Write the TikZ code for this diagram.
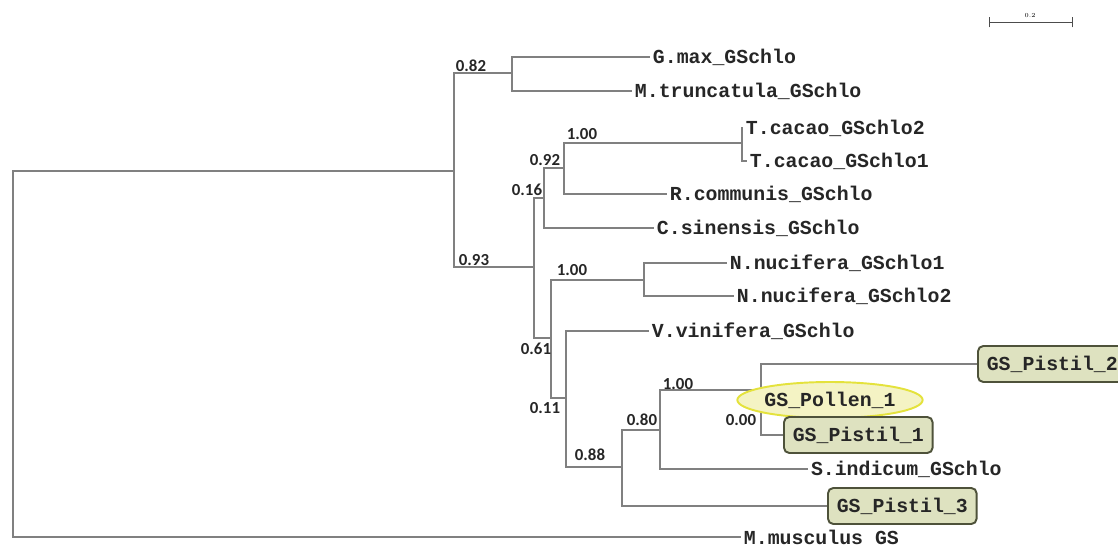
\documentclass[tikz,border=0pt]{standalone}
\usepackage{fontspec}
\setmonofont{Liberation Mono}
\newfontfamily\bootfont{Carlito}
\usetikzlibrary{shapes.geometric}
\pgfdeclarelayer{background}
\pgfsetlayers{background,main}
\definecolor{treegray}{RGB}{128,128,128}
\definecolor{pistilfill}{RGB}{222,226,192}
\definecolor{pistilline}{RGB}{78,82,58}
\definecolor{pollenfill}{RGB}{244,243,196}
\definecolor{pollenline}{RGB}{228,226,60}
\begin{document}
\begin{tikzpicture}[x=0.02cm, y=-0.02cm,
  branch/.style={draw=treegray, line width=0.65pt},
  leaf/.style={anchor=west, inner sep=1.5pt, text=black!85,
    font=\fontsize{11.3}{13}\selectfont\ttfamily\bfseries},
  boot/.style={inner sep=0pt, text=black!85,
    font=\fontsize{9.6}{11}\selectfont\bootfont\bfseries},
  pistil/.style={leaf, draw=pistilline, fill=pistilfill, line width=1.1pt,
    rounded corners=3pt, inner xsep=5pt, minimum height=0.72cm},
  pollen/.style={ellipse, draw=pollenline, fill=pollenfill, line width=1.1pt,
    minimum width=3.32cm, minimum height=0.72cm, inner sep=0pt, text=black!85,
    font=\fontsize{11.3}{13}\selectfont\ttfamily\bfseries}]
  \useasboundingbox (0,0) rectangle (1118,547);
  % Noeuds internes
  \coordinate (root) at (13,354);
  \coordinate (nA) at (454,171);
  \coordinate (n82) at (512,73);
  \coordinate (n93) at (534,267);
  \coordinate (n16) at (544,198);
  \coordinate (n92) at (564,168);
  \coordinate (ntc) at (742,143);
  \coordinate (n61) at (551,338);
  \coordinate (nnn) at (644,280);
  \coordinate (n11) at (566,398);
  \coordinate (n88) at (622,467);
  \coordinate (n80) at (660,430);
  \coordinate (n00) at (761,390);
  % Feuilles
  \node[leaf] (gmax) at (650,57) {G.max\_GSchlo};
  \node[leaf] (mtru) at (632,91) {M.truncatula\_GSchlo};
  \node[leaf] (tc2) at (743,128) {T.cacao\_GSchlo2};
  \node[leaf] (tc1) at (747,161) {T.cacao\_GSchlo1};
  \node[leaf] (rcom) at (667,194) {R.communis\_GSchlo};
  \node[leaf] (csin) at (654,228) {C.sinensis\_GSchlo};
  \node[leaf] (nn1) at (727,263) {N.nucifera\_GSchlo1};
  \node[leaf] (nn2) at (734,296) {N.nucifera\_GSchlo2};
  \node[leaf] (vvin) at (649,331) {V.vinifera\_GSchlo};
  \node[leaf] (sind) at (808,469) {S.indicum\_GSchlo};
  \node[leaf] (mmus) at (741,537) {M.musculus GS};
  % Pistil et pollen
  \node[pistil] (p2) at (977,364) {GS\_Pistil\_2};
  \node[pollen] (pollen) at (830,400) {GS\_Pollen\_1};
  \node[pistil] (p1) at (783,435) {GS\_Pistil\_1};
  \node[pistil] (p3) at (827,506) {GS\_Pistil\_3};
  % Branches
  \begin{pgfonlayer}{background}
    \draw[branch] (root) |- (nA);
    \draw[branch] (root) |- (mmus.west);
    \draw[branch] (nA) |- (n82);
    \draw[branch] (nA) |- (n93);
    \draw[branch] (n82) |- (gmax.west);
    \draw[branch] (n82) |- (mtru.west);
    \draw[branch] (n93) |- (n16);
    \draw[branch] (n93) |- (n61);
    \draw[branch] (n16) |- (n92);
    \draw[branch] (n16) |- (csin.west);
    \draw[branch] (n92) |- (ntc);
    \draw[branch] (n92) |- (rcom.west);
    \draw[branch] (ntc) |- (tc2.west);
    \draw[branch] (ntc) |- (tc1.west);
    \draw[branch] (n61) |- (nnn);
    \draw[branch] (n61) |- (n11);
    \draw[branch] (nnn) |- (nn1.west);
    \draw[branch] (nnn) |- (nn2.west);
    \draw[branch] (n11) |- (vvin.west);
    \draw[branch] (n11) |- (n88);
    \draw[branch] (n88) |- (n80);
    \draw[branch] (n88) |- (p3.west);
    \draw[branch] (n80) |- (n00);
    \draw[branch] (n80) |- (sind.west);
    \draw[branch] (n00) |- (p2.west);
    \draw[branch] (n00) |- (pollen.center);
    \draw[branch] (n00) |- (p1.west);
  \end{pgfonlayer}
  % Valeurs de bootstrap
  \node[boot] (b82) at (471,66) {0.82};
  \node[boot] (b100a) at (582,134) {1.00};
  \node[boot] (b92) at (545,160) {0.92};
  \node[boot] (b16) at (527,190) {0.16};
  \node[boot] (b93) at (474,260) {0.93};
  \node[boot] (b100b) at (572,270) {1.00};
  \node[boot] (b61) at (536,349) {0.61};
  \node[boot] (b11) at (545,408) {0.11};
  \node[boot] (b88) at (590,455) {0.88};
  \node[boot] (b80) at (642,420) {0.80};
  \node[boot] (b100c) at (678,384) {1.00};
  \node[boot] (b00) at (741,420) {0.00};
  % Echelle
  \coordinate (sa) at (989,22);
  \coordinate (sb) at (1072,22);
  \draw[black!70, line width=0.4pt] (sa) -- (sb);
  \draw[black!70, line width=0.4pt] ([yshift=-3]sa) -- ([yshift=3]sa);
  \draw[black!70, line width=0.4pt] ([yshift=-3]sb) -- ([yshift=3]sb);
  \node[inner sep=0pt, font=\fontsize{3.5}{4}\selectfont] (sl) at (1030,16) {0.2};
\end{tikzpicture}
\end{document}
